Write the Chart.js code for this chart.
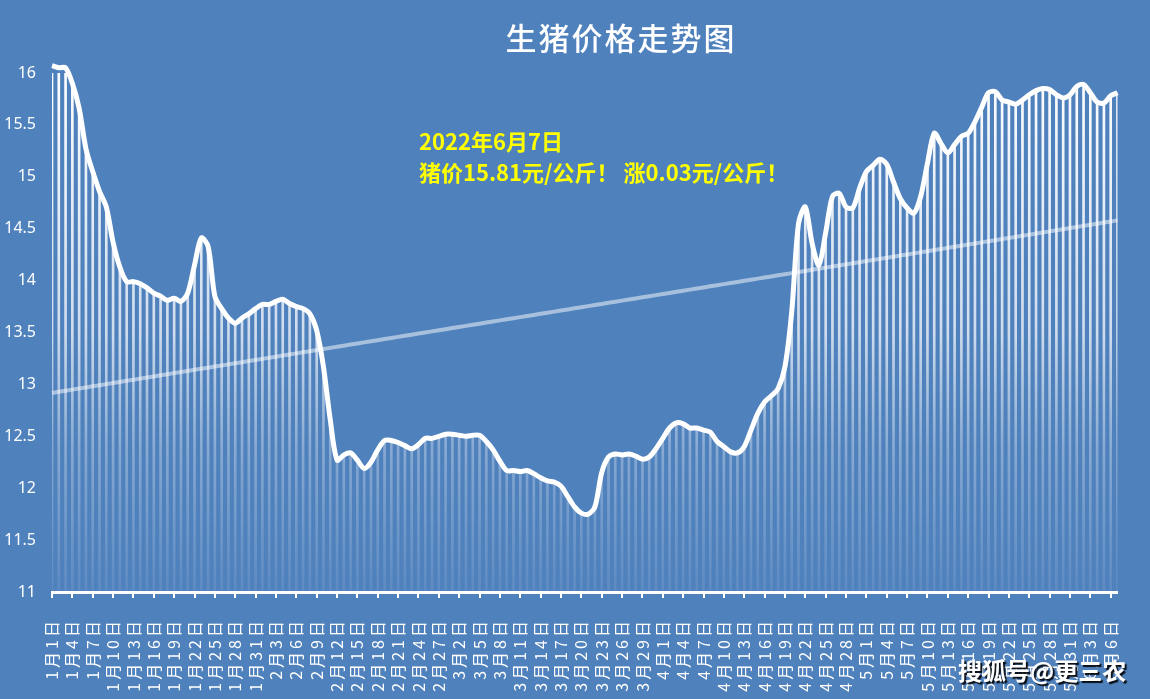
<!DOCTYPE html>
<html>
<head>
<meta charset="utf-8">
<script src="https://cdn.jsdelivr.net/npm/chart.js@4.4.1/dist/chart.umd.min.js"></script>
<style>
  html, body { margin: 0; padding: 0; background: #4f81bd; }
  #wrap { width: 1150px; height: 699px; position: relative; }
</style>
</head>
<body>
<div id="wrap"><canvas id="priceChart"></canvas></div>
<script>
// days in each month shown (2022, up to 6月7日)
const monthDays = [31, 28, 31, 30, 31, 7];
const dateLabels = [];
monthDays.forEach((n, m) => {
  for (let d = 1; d <= n; d++) dateLabels.push((m + 1) + "月" + d + "日");
});

// daily pig price, 元/公斤
const prices = [
  16.07, 16.05, 16.05, 15.90, 15.66, 15.27, 15.05, 14.86, 14.71, 14.37,
  14.13, 13.99, 13.99, 13.97, 13.93, 13.88, 13.85, 13.81, 13.83, 13.80,
  13.88, 14.15, 14.41, 14.33, 13.85, 13.73, 13.64, 13.59, 13.64, 13.68,
  13.73, 13.77, 13.77, 13.80, 13.82, 13.78, 13.75, 13.73, 13.68, 13.52,
  13.17, 12.66, 12.27, 12.32, 12.34, 12.27, 12.19, 12.25, 12.37, 12.46,
  12.46, 12.44, 12.41, 12.38, 12.42, 12.48, 12.48, 12.50, 12.52, 12.52,
  12.51, 12.50, 12.51, 12.51, 12.45, 12.37, 12.26, 12.17, 12.17, 12.16,
  12.17, 12.14, 12.10, 12.07, 12.06, 12.02, 11.92, 11.82, 11.76, 11.75,
  11.82, 12.15, 12.30, 12.33, 12.32, 12.33, 12.31, 12.28, 12.30, 12.38,
  12.48, 12.58, 12.63, 12.62, 12.58, 12.58, 12.56, 12.54, 12.45, 12.40,
  12.35, 12.34, 12.40, 12.56, 12.72, 12.83, 12.89, 12.96, 13.17, 13.70,
  14.55, 14.71, 14.36, 14.15, 14.46, 14.81, 14.84, 14.71, 14.70, 14.89,
  15.05, 15.11, 15.17, 15.12, 14.95, 14.79, 14.70, 14.65, 14.81, 15.13,
  15.42, 15.32, 15.23, 15.31, 15.39, 15.42, 15.53, 15.67, 15.81, 15.82,
  15.74, 15.72, 15.70, 15.74, 15.79, 15.83, 15.85, 15.84, 15.79, 15.76,
  15.79, 15.87, 15.89, 15.81, 15.72, 15.71, 15.78, 15.81
];

const yTicks = [11, 11.5, 12, 12.5, 13, 13.5, 14, 14.5, 15, 15.5, 16];

const titleText = "生猪价格走势图";
const noteLines = ["2022年6月7日", "猪价15.81元/公斤！ 涨0.03元/公斤！"];
const watermark = "搜狐号@更三农";

// linear trend line (least squares), like Excel's trendline
function trend(values) {
  const n = values.length;
  let sx = 0, sy = 0, sxy = 0, sxx = 0;
  values.forEach((v, i) => { sx += i; sy += v; sxy += i * v; sxx += i * i; });
  const k = (n * sxy - sx * sy) / (n * sxx - sx * sx);
  const b = (sy - k * sx) / n;
  return values.map((v, i) => b + k * i);
}

function dropGradient(ctx) {
  const area = ctx.chart.chartArea;
  if (!area) return "rgba(255,255,255,0.6)";
  const g = ctx.chart.ctx.createLinearGradient(0, area.top, 0, area.bottom);
  g.addColorStop(0, "rgba(255,255,255,1)");
  g.addColorStop(0.5, "rgba(255,255,255,0.72)");
  g.addColorStop(0.72, "rgba(255,255,255,0.33)");
  g.addColorStop(1, "rgba(255,255,255,0.08)");
  return g;
}

const textPlugin = {
  id: "texts",
  beforeDraw(chart) {
    chart.ctx.letterSpacing = "3px"; // spacing for the date labels
  },
  beforeDatasetsDraw(chart) {
    chart.ctx.letterSpacing = "0px";
  },
  afterDraw(chart) {
    const c = chart.ctx;
    c.save();
    c.letterSpacing = "2px";
    c.fillStyle = "#ffffff";
    c.font = "500 31px 'Noto Sans CJK SC'";
    c.textAlign = "center";
    c.textBaseline = "middle";
    c.fillText(titleText, 621, 38);

    c.letterSpacing = "0px";
    c.fillStyle = "#ffff00";
    c.font = "bold 22px 'Noto Sans CJK SC'";
    c.textAlign = "left";
    c.fillText(noteLines[0], 419, 142);
    c.fillText(noteLines[1], 419, 173);

    c.font = "bold 24px 'Noto Sans CJK SC'";
    c.shadowColor = "rgba(0,0,0,0.9)";
    c.shadowOffsetX = 2;
    c.shadowOffsetY = 2;
    c.shadowBlur = 1;
    c.fillStyle = "#ffffff";
    c.fillText(watermark, 958, 671);
    c.restore();
  }
};

new Chart(document.getElementById("priceChart"), {
  data: {
    labels: dateLabels,
    datasets: [
      {
        type: "line",
        data: prices,
        borderColor: "#ffffff",
        borderWidth: 5,
        pointRadius: 0,
        tension: 0.3,
        clip: false,
        order: 0
      },
      {
        type: "line",
        data: trend(prices),
        borderColor: "rgba(255,255,255,0.5)",
        borderWidth: 4,
        pointRadius: 0,
        order: 1
      },
      {
        type: "bar",
        data: prices,
        base: 11,
        barThickness: 2,
        backgroundColor: dropGradient,
        order: 2
      }
    ]
  },
  options: {
    responsive: true,
    maintainAspectRatio: false,
    animation: false,
    layout: { padding: { top: 73, right: 17, left: 0, bottom: 0 } },
    plugins: {
      legend: { display: false },
      tooltip: { enabled: false }
    },
    scales: {
      x: {
        offset: false,
        grid: {
          offset: false,
          drawOnChartArea: false,
          color: "#ffffff",
          lineWidth: 2,
          tickLength: 6
        },
        border: { color: "#ffffff", width: 3 },
        afterBuildTicks: axis => {
          axis.ticks = axis.ticks.filter(t => t.value % 3 === 0);
        },
        afterFit: scale => { scale.height = 107; },
        ticks: {
          autoSkip: false,
          minRotation: 90,
          maxRotation: 90,
          padding: 20,
          color: "#ffffff",
          font: { family: "'Noto Sans CJK SC'", size: 16 }
        }
      },
      y: {
        min: 11,
        max: 16,
        afterBuildTicks: axis => {
          axis.ticks = yTicks.map(v => ({ value: v }));
        },
        afterFit: scale => { scale.width = 52; },
        grid: { display: false },
        border: { display: false },
        ticks: {
          z: 1,
          padding: 8,
          color: "#ffffff",
          font: { family: "'Noto Sans'", size: 16 },
          callback: v => String(v)
        }
      }
    }
  },
  plugins: [textPlugin]
});
</script>
</body>
</html>
